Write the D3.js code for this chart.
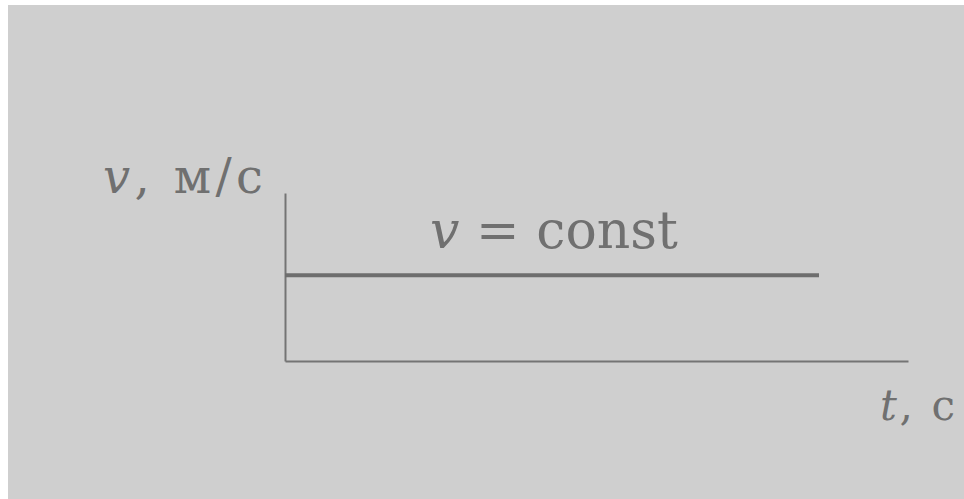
<!DOCTYPE html>
<html lang="ru">
<head>
    <meta charset="UTF-8">
    <title>v = const</title>
    <script src="https://cdn.jsdelivr.net/npm/d3@7"></script>
    <style>
        html, body {
            margin: 0;
            padding: 0;
            background: #ffffff;
        }

        .axis path {
            stroke: #747474;
            stroke-width: 2px;
        }

        text.lbl {
            fill: #707070;
            font-family: "DejaVu Serif", "Liberation Serif", serif;
        }
    </style>
</head>
<body>
<div id="svgcontainer"></div>

<script>
    // data
    const timeValues = [0, 6];
    const speedValues = [5.1, 5.1];
    const timeDomain = [0, 7];
    const speedDomain = [0, 10];
    const xLabel = ["t", ", с"];
    const yLabel = ["v", ", м/с"];
    const lineLabel = ["v", " = const"];

    const width = 964;
    const height = 499;

    const AXIS_LEFT = 285;
    const AXIS_RIGHT = 908;
    const AXIS_BOTTOM = 361;
    const AXIS_TOP = 193;

    const svg = d3.select("#svgcontainer")
        .append("svg")
        .attr("width", width)
        .attr("height", height)
        .style("display", "block");

    // scanned page background with white strip at the top/left
    svg.append("rect")
        .attr("x", 8)
        .attr("y", 5)
        .attr("width", width - 8)
        .attr("height", height - 5)
        .style("fill", "#cfcfcf");

    const xScale = d3.scaleLinear()
        .domain(timeDomain)
        .range([AXIS_LEFT, AXIS_RIGHT]);

    const yScale = d3.scaleLinear()
        .domain(speedDomain)
        .range([AXIS_BOTTOM, AXIS_TOP]);

    svg.append("g")
        .attr("class", "axis")
        .attr("transform", "translate(0," + AXIS_BOTTOM + ")")
        .call(d3.axisBottom(xScale).ticks(0).tickSizeOuter(0));

    svg.append("g")
        .attr("class", "axis")
        .attr("transform", "translate(" + AXIS_LEFT + ",0)")
        .call(d3.axisLeft(yScale).ticks(0).tickSizeOuter(0));

    const points = timeValues.map(function (t, i) {
        return {t: t, v: speedValues[i]};
    });

    const line = d3.line()
        .x(function (d) { return xScale(d.t); })
        .y(function (d) { return yScale(d.v); });

    svg.append("path")
        .datum(points)
        .attr("d", line)
        .style("fill", "none")
        .style("stroke", "#6e6e6e")
        .style("stroke-width", 4);

    function label(parts, x, y, size, len) {
        const t = svg.append("text")
            .attr("class", "lbl")
            .attr("x", x)
            .attr("y", y)
            .style("font-size", size + "px");
        if (len) {
            t.attr("textLength", len).attr("lengthAdjust", "spacing");
        }
        t.append("tspan").style("font-style", "italic").text(parts[0]);
        t.append("tspan").text(parts[1]);
        return t;
    }

    label(yLabel, 103, 193, 48, 160);
    label(lineLabel, 430, 248, 52, 248);
    label(xLabel, 880, 420, 42, 75);
</script>

</body>
</html>
